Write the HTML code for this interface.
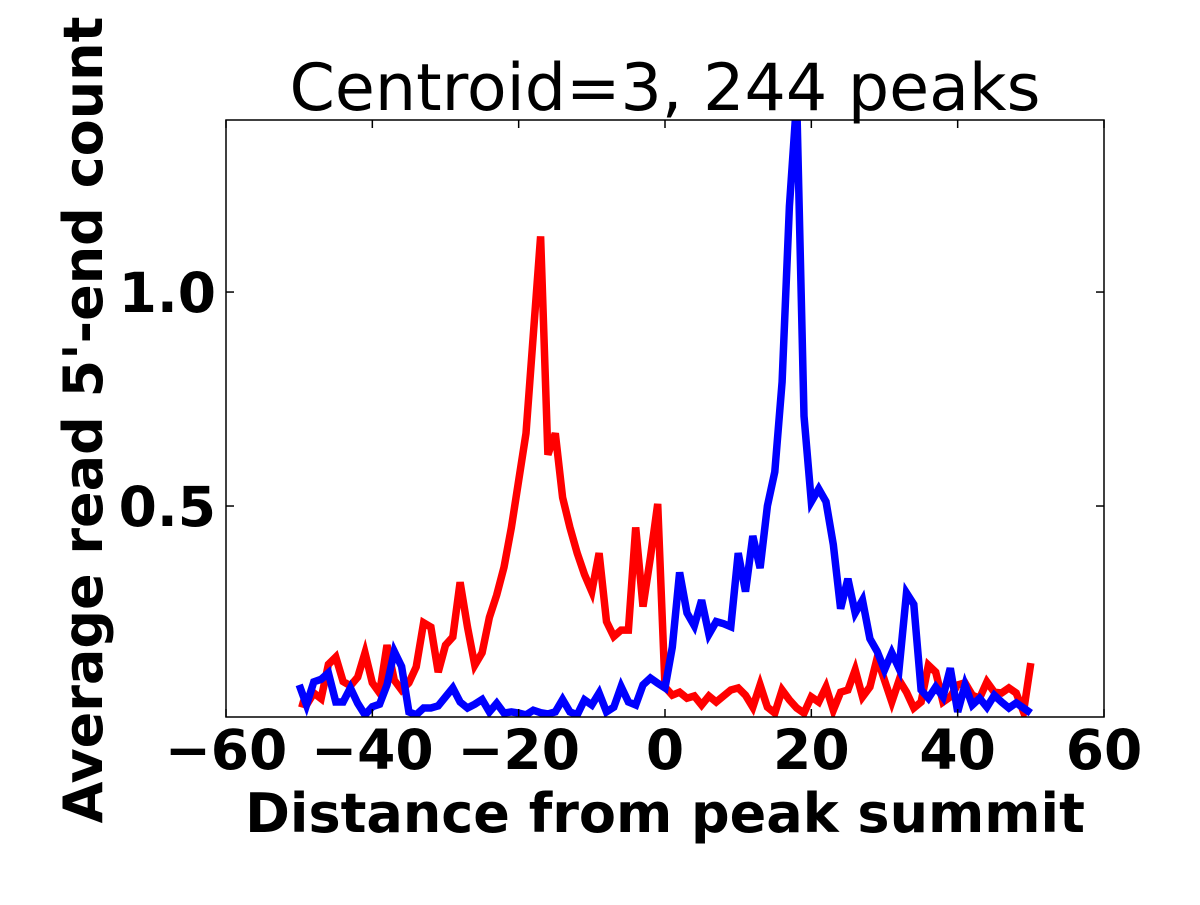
<!DOCTYPE html>
<html><head><meta charset="utf-8"><style>
body{margin:0;background:#fff}
svg text{font-family:"DejaVu Sans","Liberation Sans",sans-serif}
</style></head><body>
<svg id="chart" width="1200" height="900" xmlns="http://www.w3.org/2000/svg">
<defs><clipPath id="clip"><rect x="226" y="120" width="878" height="597"/></clipPath></defs>
<text x="665" y="110" font-size="65" text-anchor="middle">Centroid=3, 244 peaks</text>
<g id="series" clip-path="url(#clip)"></g>
<rect x="226" y="120" width="878" height="597" fill="none" stroke="#000" stroke-width="1.5"/>
<g id="axes"></g>
<text x="665" y="832" font-size="54" font-weight="bold" text-anchor="middle">Distance from peak summit</text>
<text transform="translate(102,420) rotate(-90)" font-size="54" font-weight="bold" text-anchor="middle">Average read 5'-end count</text>
</svg>
<script>
const xStart = -50;
const redValues = [.04,.035,.063,.05,.13,.147,.09,.08,.10,.157,.087,.063,.175,.093,.07,.087,.124,.227,.217,.112,.175,.194,.322,.217,.128,.157,.24,.292,.357,.45,.56,.67,.9,1.13,.62,.67,.52,.45,.39,.34,.30,.39,.23,.195,.21,.21,.45,.265,.38,.505,.077,
.058,.065,.051,.056,.035,.056,.042,.056,.07,.075,.058,.03,.082,.03,.016,.07,.047,.028,.016,.054,.042,.077,.023,.065,.07,.117,.054,.077,.145,.093,.042,.093,.065,.028,.042,.128,.112,.042,.054,.082,.087,.058,.051,.089,.065,.063,.075,.063,.019,.133];
const blueValues = [.082,.035,.089,.095,.11,.042,.042,.075,.039,.012,.031,.037,.082,.16,.125,.019,.012,.028,.028,.033,.054,.075,.042,.028,.037,.048,.019,.039,.016,.019,.016,.012,.023,.017,.014,.019,.048,.019,.012,.047,.035,.063,.019,.03,.078,.042,.035,.082,.098,.086,.075,
.17,.345,.25,.22,.28,.2,.23,.225,.218,.39,.3,.43,.355,.5,.58,.79,1.2,1.45,.71,.51,.54,.51,.41,.26,.33,.25,.28,.19,.16,.117,.157,.12,.297,.27,.07,.051,.077,.054,.121,.019,.082,.035,.051,.03,.058,.042,.028,.04,.028,.016];
const xTicks = [-60,-40,-20,0,20,40,60];
const xTickLabels = ["\u221260","\u221240","\u221220","0","20","40","60"];
const yTicks = [0.5,1.0];
const yTickLabels = ["0.5","1.0"];
const X0=226,X1=1104,Y0=717,Y1=120,XMIN=-60,XMAX=60,YMIN=0.007,YMAX=1.402;
function sx(v){return X0+(v-XMIN)/(XMAX-XMIN)*(X1-X0);}
function sy(v){return Y0-(v-YMIN)/(YMAX-YMIN)*(Y0-Y1);}
const NS="http://www.w3.org/2000/svg";
const series=document.getElementById('series');
function drawLine(vals,color,name){
  const p=document.createElementNS(NS,'polyline');
  p.setAttribute('points',vals.map((v,i)=>sx(xStart+i).toFixed(1)+','+sy(v).toFixed(1)).join(' '));
  p.setAttribute('fill','none');p.setAttribute('stroke',color);p.setAttribute('stroke-width','7.5');p.setAttribute('stroke-linejoin','miter');
  
  
  series.appendChild(p);
}
drawLine(redValues,'#ff0000','red-series-line');
drawLine(blueValues,'#0000ff','blue-series-line');
const axes=document.getElementById('axes');
xTicks.forEach((t,i)=>{
  const x=sx(t);
  [[Y0,Y0-8],[Y1,Y1+8]].forEach(([a,b])=>{
    const l=document.createElementNS(NS,'line');
    l.setAttribute('x1',x);l.setAttribute('x2',x);l.setAttribute('y1',a);l.setAttribute('y2',b);l.setAttribute('stroke','#000');l.setAttribute('stroke-width','1.5');
    
    
    axes.appendChild(l);
  });
  const tx=document.createElementNS(NS,'text');
  tx.setAttribute('x',x);tx.setAttribute('y',769);tx.setAttribute('font-size','55');tx.setAttribute('font-weight','bold');tx.setAttribute('text-anchor','middle');
  tx.textContent=xTickLabels[i];
  
  
  axes.appendChild(tx);
});
yTicks.forEach((t,i)=>{
  const y=sy(t);
  [[X0,X0+8],[X1,X1-8]].forEach(([a,b])=>{
    const l=document.createElementNS(NS,'line');
    l.setAttribute('y1',y);l.setAttribute('y2',y);l.setAttribute('x1',a);l.setAttribute('x2',b);l.setAttribute('stroke','#000');l.setAttribute('stroke-width','1.5');
    
    
    axes.appendChild(l);
  });
  const tx=document.createElementNS(NS,'text');
  tx.setAttribute('x',216);tx.setAttribute('y',y+20);tx.setAttribute('font-size','55');tx.setAttribute('font-weight','bold');tx.setAttribute('text-anchor','end');
  tx.textContent=yTickLabels[i];
  
  
  axes.appendChild(tx);
});
</script>
</body></html>
